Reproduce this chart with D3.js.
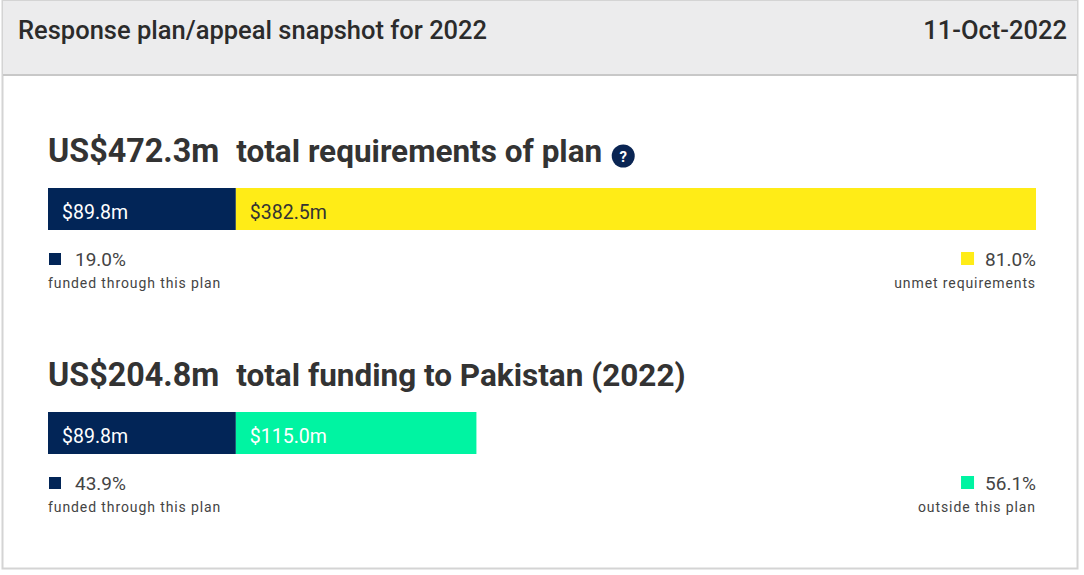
<!DOCTYPE html>
<meta charset="utf-8">
<script src="https://d3js.org/d3.v7.min.js"></script>
<style>
  body { margin: 0; background: #fff; font-family: Roboto, "Noto Sans", sans-serif; }
</style>
<div id="snapshot"></div>
<script>
  var headerTitle = "Response plan/appeal snapshot for 2022";
  var headerDate = "11-Oct-2022";
  var sectionTotals = ["US$472.3m", "US$204.8m"];
  var sectionTitles = ["total requirements of plan", "total funding to Pakistan (2022)"];
  var fundedValues = [89.8, 89.8];
  var otherValues = [382.5, 115.0];
  var fundedPct = ["19.0%", "43.9%"];
  var otherPct = ["81.0%", "56.1%"];
  var fundedLabels = ["funded through this plan", "funded through this plan"];
  var otherLabels = ["unmet requirements", "outside this plan"];
  var otherColors = ["#ffec17", "#00f4a2"];
  var navy = "#022557";

  var W = 1084, H = 575;
  var svg = d3.select("#snapshot").append("svg")
      .attr("width", W).attr("height", H);

  // panel frame and header band
  svg.append("rect").attr("x", 2.5).attr("y", 0.5).attr("width", 1075).attr("height", 568)
      .attr("fill", "#fff").attr("stroke", "#d4d4d4").attr("stroke-width", 2);
  svg.append("rect").attr("x", 3).attr("y", 1).attr("width", 1074).attr("height", 73)
      .attr("fill", "#ececed");
  svg.append("line").attr("x1", 3).attr("x2", 1077).attr("y1", 75).attr("y2", 75)
      .attr("stroke", "#c8c8c8").attr("stroke-width", 2);

  svg.append("text").attr("x", 18).attr("y", 39)
      .style("font-size", "25.5px").style("font-weight", 500).attr("fill", "#2b2b2b")
      .text(headerTitle);
  svg.append("text").attr("x", 1067).attr("y", 39).attr("text-anchor", "end")
      .style("font-size", "25.5px").style("font-weight", 500).attr("fill", "#2b2b2b")
      .text(headerDate);

  // shared horizontal scale: full requirement spans the bar width
  var x = d3.scaleLinear()
      .domain([0, fundedValues[0] + otherValues[0]])
      .range([48, 1036]);

  var tops = [188, 412];
  var barH = 42;

  sectionTotals.forEach(function (tot, i) {
    var top = tops[i];
    var g = svg.append("g");

    // heading
    var head = g.append("text").attr("x", 48).attr("y", top - 26)
        .style("font-size", "31.5px").style("font-weight", 700).attr("fill", "#333");
    head.append("tspan").style("font-size", "32.3px").text(tot);
    head.append("tspan").attr("dx", 17).text(sectionTitles[i]);

    if (i === 0) {
      var bb = head.node().getBBox();
      var cx = bb.x + bb.width + 21, cy = top - 32;
      g.append("circle").attr("cx", cx).attr("cy", cy).attr("r", 11.5).attr("fill", "#0a2553");
      g.append("text").attr("x", cx).attr("y", cy + 5.5).attr("text-anchor", "middle")
          .style("font-size", "15px").style("font-weight", 700).attr("fill", "#fff").text("?");
    }

    // stacked bar
    var segs = [
      { x0: 0, x1: fundedValues[i], color: navy, label: "$" + fundedValues[i].toFixed(1) + "m", tc: "#fff" },
      { x0: fundedValues[i], x1: fundedValues[i] + otherValues[i], color: otherColors[i],
        label: "$" + otherValues[i].toFixed(1) + "m", tc: i === 0 ? "#333" : "#fff" }
    ];
    g.selectAll("rect.seg").data(segs).enter().append("rect")
        .attr("class", "seg")
        .attr("x", function (d) { return x(d.x0); })
        .attr("y", top)
        .attr("width", function (d) { return x(d.x1) - x(d.x0); })
        .attr("height", barH)
        .attr("fill", function (d) { return d.color; });
    g.selectAll("text.seg").data(segs).enter().append("text")
        .attr("class", "seg")
        .attr("x", function (d) { return x(d.x0) + 14; })
        .attr("y", top + 31)
        .style("font-size", "19.5px")
        .attr("fill", function (d) { return d.tc; })
        .text(function (d) { return d.label; });

    // legend left
    var ly = top + barH + 36;
    g.append("rect").attr("x", 49).attr("y", ly - 13).attr("width", 12).attr("height", 12).attr("fill", navy);
    g.append("text").attr("x", 75).attr("y", ly).style("font-size", "19px").attr("fill", "#444")
        .text(fundedPct[i]);
    g.append("text").attr("x", 48).attr("y", ly + 22).style("font-size", "14px")
        .style("letter-spacing", "0.9px").attr("fill", "#444").text(fundedLabels[i]);

    // legend right
    var rp = g.append("text").attr("x", 1036).attr("y", ly).attr("text-anchor", "end")
        .style("font-size", "19px").attr("fill", "#444").text(otherPct[i]);
    var rw = rp.node().getComputedTextLength();
    g.append("rect").attr("x", 1036 - rw - 24).attr("y", ly - 14).attr("width", 13).attr("height", 13)
        .attr("fill", otherColors[i]);
    g.append("text").attr("x", 1036).attr("y", ly + 22).attr("text-anchor", "end")
        .style("font-size", "14px").style("letter-spacing", "0.9px").attr("fill", "#444")
        .text(otherLabels[i]);
  });
</script>
